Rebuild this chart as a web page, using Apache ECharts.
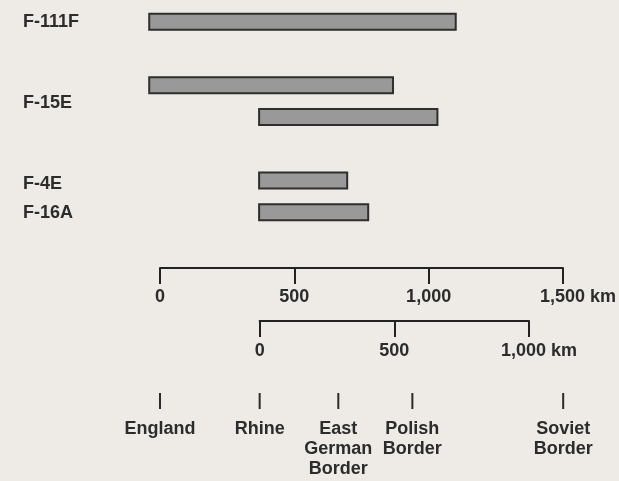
<!DOCTYPE html>
<html>
<head>
<meta charset="utf-8">
<script src="https://cdn.jsdelivr.net/npm/echarts@6/dist/echarts.min.js"></script>
<style>
html,body{margin:0;padding:0;background:#eeebe6;}
#c{width:619px;height:481px;}
</style>
</head>
<body>
<div id="c"></div>
<script>
// ---- data ----
var aircraft = ['F-111F', 'F-15E', 'F-4E', 'F-16A'];
var aircraftLabelRow = [0, 2.55, 5.1, 6.03];
// combat radius bars: row, aircraft index, start km (from England), end km
var barRows = [0, 2, 3, 5, 6];
var barAircraft = [0, 1, 1, 2, 3];
var barStart = [-40, -40, 368, 368, 368];
var barEnd = [1098, 865, 1030, 695, 773];
// scale ticks
var scaleEngland = [0, 500, 1000, 1500];
var scaleRhine = [0, 500, 1000];
var rhineKm = 370;
// locations (km from England)
var locNames = ['England', 'Rhine', 'East\nGerman\nBorder', 'Polish\nBorder', 'Soviet\nBorder'];
var locKm = [0, 370, 662, 937, 1497];

var TXT = '#2c2c2c';
var FONT = 'Liberation Sans';
var FS = 18;

function fmtNum(v){ return v.toLocaleString('en-US'); }

var barData = barRows.map(function(r, i){ return [barStart[i], barEnd[i], r, barAircraft[i]]; });

var chart = echarts.init(document.getElementById('c'), null, {renderer: 'canvas'});
var pxPerKm = 404 / 1500;

chart.setOption({
  backgroundColor: '#eeebe6',
  animation: false,
  grid: [
    {left: 160, width: 404, top: 6, height: 222},
    {left: 160, width: 404, top: 267, height: 1},
    {left: 160 + rhineKm * pxPerKm, width: 1000 * pxPerKm, top: 320, height: 1},
    {left: 160, width: 404, top: 393, height: 16}
  ],
  xAxis: [
    {gridIndex: 0, type: 'value', min: 0, max: 1500, show: false},
    {gridIndex: 1, type: 'value', min: 0, max: 1500, interval: 500, position: 'bottom',
      axisLine: {show: true, lineStyle: {color: '#222', width: 2}},
      axisTick: {show: true, length: 16, lineStyle: {color: '#222', width: 2}},
      splitLine: {show: false},
      axisLabel: {margin: 20, color: TXT, fontFamily: FONT, fontWeight: 'bold', fontSize: FS,
        customValues: scaleEngland,
        formatter: function(v){ return v === 1500 ? '{p| }{v|' + fmtNum(v) + ' km}' : fmtNum(v); },
        rich: {p: {width: 30}, v: {color: TXT, fontFamily: FONT, fontWeight: 'bold', fontSize: FS}}}
    },
    {gridIndex: 2, type: 'value', min: 0, max: 1000, interval: 500, position: 'bottom',
      axisLine: {show: true, lineStyle: {color: '#222', width: 2}},
      axisTick: {show: true, length: 16, lineStyle: {color: '#222', width: 2}},
      splitLine: {show: false},
      axisLabel: {margin: 21, color: TXT, fontFamily: FONT, fontWeight: 'bold', fontSize: FS,
        customValues: scaleRhine,
        formatter: function(v){ return v === 1000 ? '{p| }{v|' + fmtNum(v) + ' km}' : fmtNum(v); },
        rich: {p: {width: 20}, v: {color: TXT, fontFamily: FONT, fontWeight: 'bold', fontSize: FS}}}
    },
    {gridIndex: 3, type: 'value', min: 0, max: 1500, show: false}
  ],
  yAxis: [
    {gridIndex: 0, type: 'value', min: -0.5, max: 6.5, inverse: true,
      axisLine: {show: false}, axisTick: {show: false}, splitLine: {show: false},
      axisLabel: {show: true, customValues: aircraftLabelRow, align: 'left', margin: 137,
        color: TXT, fontFamily: FONT, fontWeight: 'bold', fontSize: FS,
        formatter: function(v){ var i = aircraftLabelRow.indexOf(v); return i >= 0 ? aircraft[i] : ''; }}
    },
    {gridIndex: 1, type: 'value', show: false},
    {gridIndex: 2, type: 'value', show: false},
    {gridIndex: 3, type: 'value', min: 0, max: 1, show: false}
  ],
  series: [
    {
      type: 'custom', xAxisIndex: 0, yAxisIndex: 0, clip: false,
      data: barData,
      renderItem: function(params, api){
        var s = api.coord([api.value(0), api.value(2)]);
        var e = api.coord([api.value(1), api.value(2)]);
        var h = 16;
        return {type: 'rect', shape: {x: s[0], y: s[1] - h / 2, width: e[0] - s[0], height: h},
          style: {fill: '#999999', stroke: '#2e2e2e', lineWidth: 2}};
      }
    },
    {
      type: 'scatter', xAxisIndex: 3, yAxisIndex: 3,
      data: locKm.map(function(k, i){ return {value: [k, 0.5], name: locNames[i]}; }),
      symbol: 'rect', symbolSize: [2, 16],
      itemStyle: {color: '#2a2a2a', opacity: 1},
      label: {show: true, position: 'bottom', distance: 10, formatter: '{b}',
        color: TXT, fontFamily: FONT, fontWeight: 'bold', fontSize: FS, lineHeight: 20, align: 'center'}
    }
  ]
});
</script>
</body>
</html>
